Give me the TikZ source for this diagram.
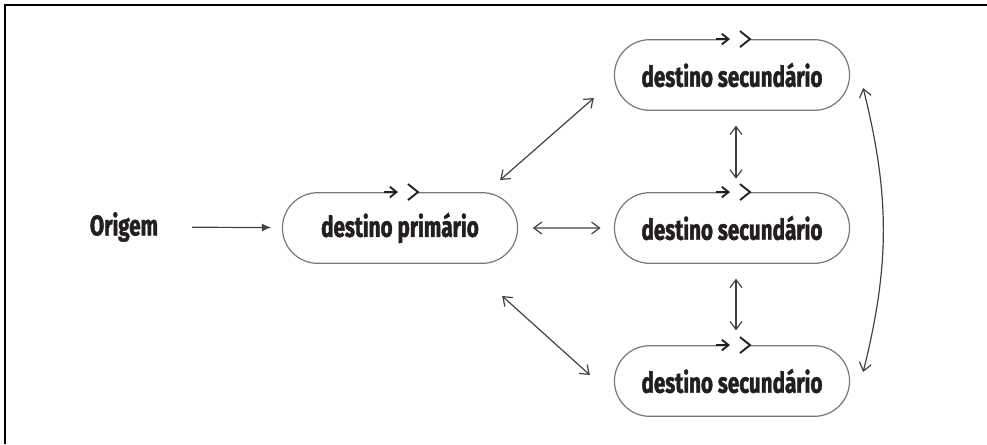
\documentclass[tikz,border=0pt]{standalone}
\usepackage{fontspec}
\setmainfont{Fira Sans}[FakeStretch=0.72, BoldFeatures={FakeBold=1.6}]
\usetikzlibrary{shapes.misc, arrows.meta, positioning}

\definecolor{inkdark}{RGB}{35,31,32}
\definecolor{boxgray}{RGB}{120,120,120}

\tikzset{
  dest/.style={rounded rectangle, draw=boxgray, line width=0.9pt, minimum width=183pt, minimum height=53pt, font=\bfseries\fontsize{21.5}{24}\selectfont, text=inkdark},
  biarrow/.style={{Straight Barb[length=6pt,width=9pt]}-{Straight Barb[length=6pt,width=9pt]}, draw=inkdark!85, line width=0.9pt},
  markarrow/.style={-{Straight Barb[length=5pt,width=8pt]}, draw=inkdark, line width=1.4pt},
  chevron/.style={draw=inkdark, line width=1.4pt}
}

% arrow and chevron on the top edge of a box
\newcommand{\flowmark}[1]{%
  \fill[white] ([shift={(-4,-3)}]#1.north) rectangle ([shift={(18,3)}]#1.north);
  \draw[markarrow] ([shift={(-16,0)}]#1.north) -- ([shift={(-2,0)}]#1.north);
  \draw[chevron] ([shift={(8,-8)}]#1.north) -- ([shift={(18,0)}]#1.north) -- ([shift={(8,8)}]#1.north);
}

\begin{document}
\begin{tikzpicture}[x=0.75pt, y=-0.75pt]
\useasboundingbox (0,0) rectangle (987,444);
\draw[line width=1.5pt] (5,444) -- (5,5) -- (987,5);

\node[font=\bfseries\fontsize{21.5}{24}\selectfont, text=inkdark] (orig) at (124,227) {Origem};
\node[dest] (prim) at (400,228) {destino primário};
\node[dest] (top) at (732,75) {destino secundário};
\node[dest] (mid) at (732,228) {destino secundário};
\node[dest] (bot) at (732,381) {destino secundário};

\flowmark{prim}
\flowmark{top}
\flowmark{mid}
\flowmark{bot}

\draw[-{Latex[length=7pt,width=6pt]}, draw=inkdark!85, line width=0.9pt, shorten <=22pt, shorten >=8pt] (orig) -- (prim);
\draw[biarrow, shorten <=11pt, shorten >=10pt] (prim) -- (mid);
\draw[biarrow] ([shift={(-18,-48)}]prim.east) -- ([shift={(-20,23)}]top.west);
\draw[biarrow] ([shift={(-16,68)}]prim.east) -- ([shift={(-24,-6)}]bot.west);
\draw[biarrow, shorten <=11pt, shorten >=10pt] ([xshift=3]top.south) -- ([xshift=3]mid.north);
\draw[biarrow, shorten <=11pt, shorten >=11pt] ([xshift=3]mid.south) -- ([xshift=3]bot.north);
\draw[biarrow] ([shift={(13,13)}]top.east) to[bend left=14] ([shift={(13,-9)}]bot.east);
\end{tikzpicture}
\end{document}
